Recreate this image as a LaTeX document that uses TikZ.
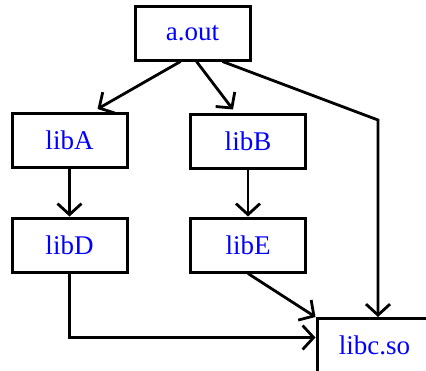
\documentclass[tikz,border=0pt]{standalone}
\usepackage{fontspec}
\setmainfont{Liberation Serif}
\usetikzlibrary{arrows.meta}
\begin{document}
\begin{tikzpicture}[x=1pt,y=-1pt,
  box/.style={draw,line width=3pt,minimum width=115pt,minimum height=54pt,
    inner sep=0pt,text=blue,font=\fontsize{27}{30}\selectfont},
  link/.style={line width=2.8pt,-{Straight Barb[length=11pt,width=24pt,line width=2.8pt]}}]
  \useasboundingbox (0,0) rectangle (426,370);
  % libraries
  \node[box] (aout) at (192.5,33) {a.out};
  \node[box] (libA) at (69.5,140.5) {libA};
  \node[box] (libB) at (248,141) {libB};
  \node[box] (libD) at (69.5,245) {libD};
  \node[box] (libE) at (248,245) {libE};
  \node[box] (libc) at (374.5,345.5) {libc.so};
  \coordinate (bend) at (378,120);

  % dependencies
  \draw[link] ([xshift=-12pt]aout.south) -- ([xshift=28pt,yshift=3pt]libA.north);
  \draw[link] ([xshift=4pt]aout.south) -- ([xshift=-15pt,yshift=3pt]libB.north);
  \draw[link] ([xshift=30pt]aout.south) -- (bend) -- (bend |- libc.north);
  \draw[link] (libA) -- (libD);
  \draw[link] (libB) -- (libE);
  \draw[link] (libD.south) |- ([yshift=8pt]libc.west);
  \draw[link] (libE.south) -- (libc.north west);
\end{tikzpicture}
\end{document}
